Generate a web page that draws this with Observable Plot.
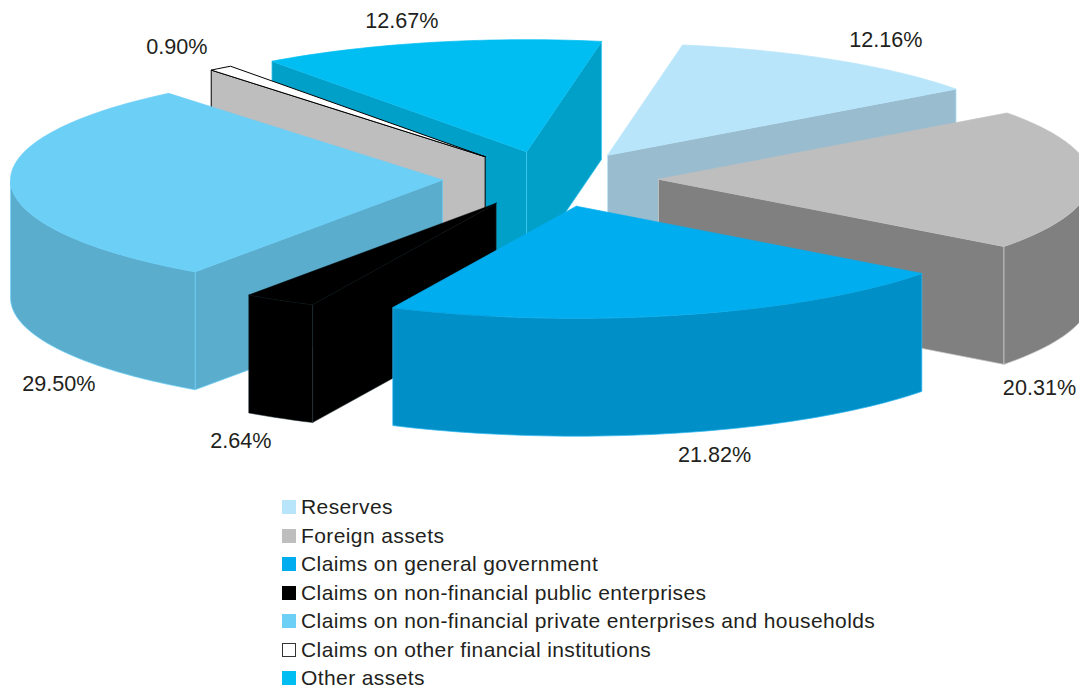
<!DOCTYPE html>
<html>
<head>
<meta charset="utf-8">
<script src="https://cdn.jsdelivr.net/npm/d3@7"></script>
<script src="https://cdn.jsdelivr.net/npm/@observablehq/plot@0.6"></script>
<style>
  html, body { margin: 0; padding: 0; background: #fff; overflow: hidden; }
  #chart svg { display: block; }
  #legend { position: absolute; left: 282px; top: 493px; font: 21px "Liberation Sans", Arial, sans-serif; letter-spacing: 0.4px; color: #231f20; }
  .row { display: flex; align-items: center; height: 28.5px; white-space: nowrap; }
  .sw { width: 14px; height: 14px; margin-right: 5px; box-sizing: border-box; flex: none; }
</style>
</head>
<body>
<div id="chart"></div>
<div id="legend"></div>
<script>
const categories = ["Reserves", "Foreign assets", "Claims on general government", "Claims on non-financial public enterprises", "Claims on non-financial private enterprises and households", "Claims on other financial institutions", "Other assets"];
const values = [12.16, 20.31, 21.82, 2.64, 29.50, 0.90, 12.67];
const topColors = ["#b8e5fa", "#bebebe", "#00adef", "#000000", "#6ccff6", "#ffffff", "#00bdf2"];
const sideColors = ["#9abccf", "#808080", "#0090c7", "#000000", "#5badce", "#bebebe", "#00a0c9"];
const edgeColors = ["#b8e5fa", "#d0d0d0", "#30b8f0", "#26343a", "#6ccff6", "#000000", "#40c8f2"];
const labelNudgeX = [50, -51, 35, -38, 48, -47, -29];
const labelNudgeY = [-20, 208.5, 140.5, 141, 200.5, -20, -21.5];
const paintOrder = [6, 0, 5, 1, 4, 3, 2];

// Pie projection
const W = 1079, H = 495;
const cx = 550, cy = 178.5, rx = 432, ry = 112, depth = 118, explode = 0.25, startDeg = 10;
const boundaryTrim = [0, 0, 0, 0.3, 0, 0.5, 0.5, 0];
const rad = d => d * Math.PI / 180;
const total = d3.sum(values);
const cum = d3.cumsum(values);
const slices = values.map((v, i) => {
  const a0 = startDeg + (i ? cum[i - 1] : 0) / total * 360;
  const a1 = startDeg + cum[i] / total * 360;
  const mid = (a0 + a1) / 2;
  return {
    i, mid, a0: a0 - boundaryTrim[i], a1: a1 - boundaryTrim[i + 1],
    ax: cx + explode * rx * Math.sin(rad(mid)),
    ay: cy - explode * ry * Math.cos(rad(mid))
  };
});
const rim = (s, a, dz = 0) => ({
  x: s.ax + rx * Math.sin(rad(a)),
  y: s.ay - ry * Math.cos(rad(a)) + dz
});
const arc = (a0, a1) => {
  const n = Math.max(2, Math.ceil(Math.abs(a1 - a0) / 1.5));
  return d3.range(n + 1).map(k => a0 + (a1 - a0) * k / n);
};
const closed = pts => [...pts, pts[0]];

function radialFace(s, a) {
  const apex = { x: s.ax, y: s.ay }, apexB = { x: s.ax, y: s.ay + depth };
  return closed([apex, rim(s, a), rim(s, a, depth), apexB]);
}
function wallFace(s) {
  // Only the part of the rim turned towards the viewer (90°..270°, mod 360)
  const lo = Math.max(s.a0, 90), hi = Math.min(s.a1, 270);
  if (hi <= lo) return null;
  const as = arc(lo, hi);
  return closed([...as.map(a => rim(s, a)), ...as.slice().reverse().map(a => rim(s, a, depth))]);
}
function topFace(s) {
  return closed([{ x: s.ax, y: s.ay }, ...arc(s.a0, s.a1).map(a => rim(s, a))]);
}

const marks = [];
for (const i of paintOrder) {
  const s = slices[i];
  const faces = [];
  if (Math.sin(rad(s.a0)) < 0) faces.push(radialFace(s, s.a0));
  if (Math.sin(rad(s.a1)) > 0) faces.push(radialFace(s, s.a1));
  const wall = wallFace(s);
  if (wall) faces.push(wall);
  const edgeWidth = i === 5 ? 1 : i === 3 ? 0.5 : 0.7;
  for (const f of faces) {
    marks.push(Plot.line(f, { x: "x", y: "y", fill: sideColors[i], stroke: edgeColors[i], strokeWidth: edgeWidth }));
  }
  marks.push(Plot.line(topFace(s), { x: "x", y: "y", fill: topColors[i], stroke: i === 5 ? "#000" : topColors[i], strokeWidth: edgeWidth }));
}
const labels = slices.map(s => {
  const p = rim(s, s.mid);
  return { x: p.x + labelNudgeX[s.i], y: p.y + labelNudgeY[s.i], text: values[s.i].toFixed(2) + "%" };
});
marks.push(Plot.text(labels, {
  x: "x", y: "y", text: "text", fill: "#231f20",
  fontSize: 21.6, fontFamily: "Liberation Sans, Arial, sans-serif"
}));

const chart = Plot.plot({
  width: W, height: H,
  marginTop: 0, marginRight: 0, marginBottom: 0, marginLeft: 0,
  x: { domain: [0, W], range: [0, W], axis: null },
  y: { domain: [0, H], range: [0, H], axis: null },
  marks
});
document.getElementById("chart").append(chart);

const legend = d3.select("#legend");
categories.forEach((c, i) => {
  const row = legend.append("div").attr("class", "row");
  row.append("div").attr("class", "sw")
    .style("background", topColors[i])
    .style("border", i === 5 ? "1px solid #333" : "none");
  row.append("div").text(c);
});
</script>
</body>
</html>
